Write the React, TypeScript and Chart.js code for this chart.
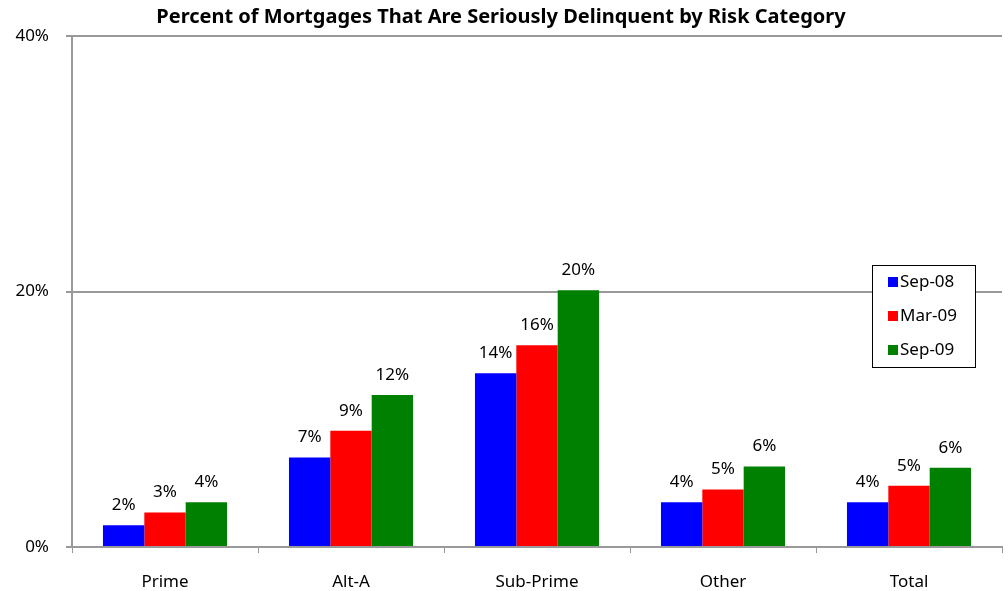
import React, { useEffect, useRef } from "react";
import { Chart, registerables } from "chart.js";

Chart.register(...registerables);

const categories = ["Prime", "Alt-A", "Sub-Prime", "Other", "Total"];
const seriesNames = ["Sep-08", "Mar-09", "Sep-09"];
const sep08 = [1.7, 7.0, 13.6, 3.5, 3.5];
const mar09 = [2.7, 9.1, 15.8, 4.5, 4.8];
const sep09 = [3.5, 11.9, 20.1, 6.3, 6.2];
const colors = ["#0000FF", "#FF0000", "#008000"];
const yTicks = [0, 20, 40];

const FONT = "'Noto Sans', 'DejaVu Sans', sans-serif";

const valueLabels = {
  id: "valueLabels",
  afterDatasetsDraw(chart: any) {
    const ctx = chart.ctx;
    ctx.save();
    ctx.font = `17px ${FONT}`;
    ctx.fillStyle = "#000";
    ctx.textAlign = "center";
    ctx.textBaseline = "middle";
    chart.data.datasets.forEach((ds: any, i: number) => {
      const meta = chart.getDatasetMeta(i);
      meta.data.forEach((el: any, j: number) => {
        ctx.fillText(Math.round(ds.data[j]) + "%", el.x, el.y - 20);
      });
    });
    ctx.restore();
  },
};

const boxLegend = {
  id: "boxLegend",
  afterDraw(chart: any) {
    const ctx = chart.ctx;
    const x = 872, y = 265, w = 103, h = 102;
    ctx.save();
    ctx.fillStyle = "#fff";
    ctx.fillRect(x, y, w, h);
    ctx.strokeStyle = "#000";
    ctx.lineWidth = 1;
    ctx.strokeRect(x + 0.5, y + 0.5, w, h);
    ctx.font = `17px ${FONT}`;
    ctx.textBaseline = "middle";
    ctx.textAlign = "left";
    chart.data.datasets.forEach((ds: any, i: number) => {
      const cy = y + 17 + i * 34;
      ctx.fillStyle = ds.backgroundColor;
      ctx.fillRect(x + 16, cy - 5, 10, 10);
      ctx.fillStyle = "#000";
      ctx.fillText(ds.label, x + 28, cy);
    });
    ctx.restore();
  },
};

export default function App() {
  const ref = useRef<HTMLCanvasElement>(null);
  useEffect(() => {
    document.body.style.margin = "0";
    const chart = new Chart(ref.current!, {
      type: "bar",
      data: {
        labels: categories,
        datasets: [sep08, mar09, sep09].map((d, i) => ({
          label: seriesNames[i],
          data: d,
          backgroundColor: colors[i],
          borderWidth: 0,
          barPercentage: 1,
          categoryPercentage: 0.667,
        })),
      },
      options: {
        animation: false,
        responsive: false,
        layout: { padding: { left: 0, right: 6, top: 0, bottom: 0 } },
        plugins: {
          legend: { display: false },
          tooltip: { enabled: false },
          title: {
            display: true,
            text: "Percent of Mortgages That Are Seriously Delinquent by Risk Category",
            color: "#000",
            font: { family: FONT, size: 20, weight: "bold", lineHeight: 1.2 },
            padding: { top: 5, bottom: 7 },
          },
        },
        scales: {
          x: {
            grid: {
              offset: true,
              drawOnChartArea: false,
              drawTicks: true,
              tickLength: 6,
              color: "#999",
            },
            border: { color: "#999", width: 2 },
            ticks: {
              color: "#000",
              font: { family: FONT, size: 17 },
              padding: 19,
            },
            afterFit: (s: any) => { s.height = 44; },
          },
          y: {
            min: 0,
            max: 40,
            afterBuildTicks: (s: any) => { s.ticks = yTicks.map((v) => ({ value: v })); },
            grid: { color: "#999", lineWidth: 2, tickLength: 6 },
            border: { color: "#999", width: 2 },
            ticks: {
              color: "#000",
              font: { family: FONT, size: 17 },
              padding: 17,
              callback: (v: any) => v + "%",
            },
            afterFit: (s: any) => { s.width = 72; },
          },
        },
      },
      plugins: [valueLabels, boxLegend],
    });
    return () => chart.destroy();
  }, []);
  return (
    <div style={{ width: 1008, height: 591 }}>
      <canvas ref={ref} width={1008} height={591} />
    </div>
  );
}
